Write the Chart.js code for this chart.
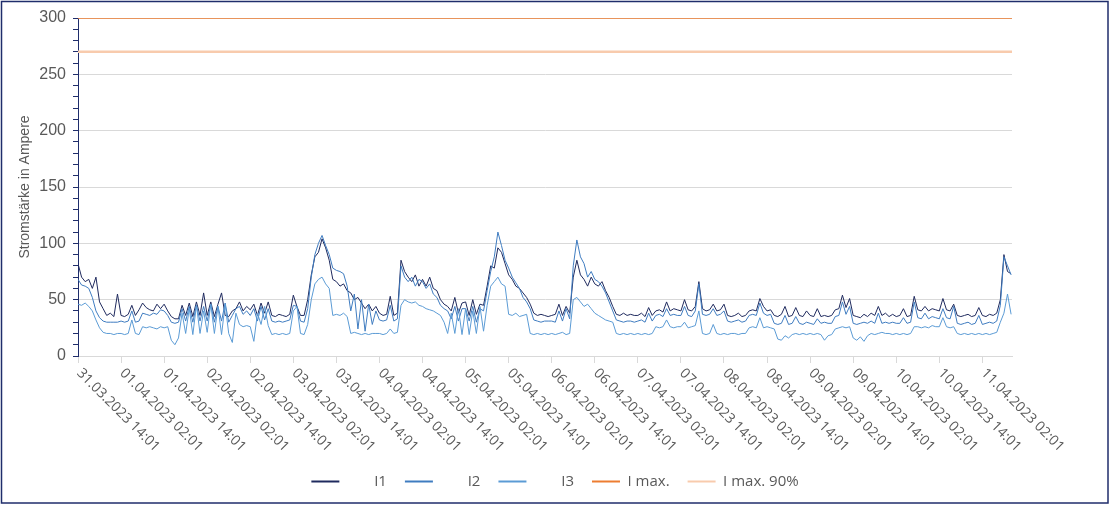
<!DOCTYPE html>
<html lang="de">
<head>
<meta charset="utf-8">
<title>Stromstärke in Ampere</title>
<script src="https://cdn.jsdelivr.net/npm/chart.js@4.4.0/dist/chart.umd.min.js"></script>
<style>
  html, body { margin: 0; padding: 0; background: #fff; }
</style>
</head>
<body>
<canvas id="grafik" width="1110" height="505"></canvas>
<script>
// Beschriftung der Zeitachse (alle 12 Stunden)
const tickLabels = [
  '31.03.2023 14:01', '01.04.2023 02:01', '01.04.2023 14:01', '02.04.2023 02:01',
  '02.04.2023 14:01', '03.04.2023 02:01', '03.04.2023 14:01', '04.04.2023 02:01',
  '04.04.2023 14:01', '05.04.2023 02:01', '05.04.2023 14:01', '06.04.2023 02:01',
  '06.04.2023 14:01', '07.04.2023 02:01', '07.04.2023 14:01', '08.04.2023 02:01',
  '08.04.2023 14:01', '09.04.2023 02:01', '09.04.2023 14:01', '10.04.2023 02:01',
  '10.04.2023 14:01', '11.04.2023 02:01'
];
const stundenProTick = 12;
const stundenGesamt = 260.25;

const serienNamen = ['I1', 'I2', 'I3', 'I max.', 'I max. 90%'];

// Stundenwerte ab 31.03.2023 14:01 (eine Zeile = 12 Stunden)
const i1 = [
  82, 70, 66, 68, 60, 70, 48, 42, 36, 38, 35, 55,
  36, 35, 37, 45, 36, 41, 47, 43, 41, 40, 46, 42,
  46, 40, 35, 33, 33, 45, 36, 47, 35, 48, 36, 56,
  36, 48, 35, 46, 56, 36, 35, 40, 42, 48, 40, 44,
  41, 46, 36, 47, 38, 48, 36, 35, 37, 36, 35, 37,
  54, 44, 36, 36, 50, 72, 88, 92, 104, 96, 85, 68,
  66, 62, 64, 58, 56, 50, 52, 47, 42, 46, 40, 44,
  38, 36, 37, 53, 36, 38, 85, 75, 70, 66, 72, 62,
  68, 62, 70, 60, 58, 50, 46, 44, 40, 52, 38, 47,
  48, 36, 50, 37, 46, 45, 62, 80, 78, 96, 92, 82,
  72, 68, 62, 60, 56, 52, 46, 38, 36, 37, 36, 35,
  36, 37, 46, 36, 44, 38, 70, 85, 72, 68, 62, 70,
  64, 62, 66, 58, 52, 44, 37, 36, 38, 36, 37, 36,
  36, 38, 35, 43, 36, 40, 41, 39, 48, 40, 42, 41,
  40, 50, 41, 40, 44, 66, 42, 40, 41, 46, 40, 41,
  46, 36, 35, 36, 38, 35, 36, 40, 41, 40, 51, 44,
  40, 41, 36, 35, 37, 44, 35, 36, 43, 36, 35, 40,
  36, 35, 42, 35, 36, 35, 36, 41, 42, 54, 43, 51,
  36, 35, 34, 37, 35, 38, 36, 44, 36, 38, 35, 37,
  35, 36, 42, 35, 36, 53, 41, 40, 44, 40, 42, 41,
  40, 51, 41, 40, 46, 36, 35, 36, 37, 35, 36, 43,
  36, 35, 37, 36, 38, 50, 90, 75, 73
];

const i2 = [
  68, 63, 62, 60, 52, 40, 34, 31, 30, 30, 30, 30,
  31, 30, 31, 40, 30, 31, 38, 37, 36, 38, 37, 41,
  40, 36, 30, 29, 30, 42, 31, 44, 30, 45, 31, 44,
  31, 46, 30, 44, 31, 47, 30, 36, 42, 44, 37, 40,
  36, 42, 31, 44, 32, 42, 31, 30, 31, 30, 31, 32,
  45, 44, 31, 30, 42, 70, 90, 100, 107, 98, 90, 78,
  76, 75, 73, 62, 40, 55, 24, 50, 22, 46, 28, 40,
  32, 31, 32, 45, 31, 33, 80, 70, 66, 70, 62, 68,
  66, 60, 64, 55, 52, 45, 42, 40, 33, 44, 31, 42,
  42, 31, 44, 30, 42, 40, 58, 75, 88, 110, 98, 85,
  78, 70, 65, 60, 52, 48, 42, 32, 31, 30, 31, 31,
  31, 30, 40, 31, 42, 33, 80, 103, 88, 82, 70, 75,
  68, 66, 62, 56, 48, 40, 32, 31, 30, 31, 31, 30,
  31, 32, 30, 38, 31, 36, 37, 35, 42, 36, 37, 36,
  36, 44, 36, 35, 40, 64, 37, 36, 37, 42, 36, 37,
  40, 31, 30, 31, 32, 30, 31, 36, 37, 36, 47, 38,
  36, 37, 29, 28, 29, 36, 28, 29, 35, 29, 28, 30,
  29, 28, 33, 29, 30, 29, 29, 35, 36, 48, 37, 44,
  29, 28, 29, 30, 29, 31, 29, 38, 29, 30, 29, 30,
  29, 29, 34, 29, 30, 48, 34, 33, 38, 33, 35, 34,
  33, 42, 34, 33, 44, 29, 28, 29, 30, 28, 29, 36,
  28, 29, 30, 29, 31, 45, 88, 80, 72
];

const i3 = [
  46, 45, 47, 44, 40, 32, 25, 21, 20, 20, 19, 20,
  20, 19, 20, 32, 20, 19, 26, 25, 26, 25, 24, 26,
  25, 26, 14, 10, 16, 38, 20, 42, 19, 45, 20, 40,
  21, 46, 20, 44, 19, 46, 20, 12, 38, 28, 26, 27,
  26, 13, 38, 28, 44, 27, 19, 20, 19, 20, 19, 20,
  40, 44, 20, 19, 28, 50, 64, 68, 70, 64, 60, 36,
  37, 36, 38, 35, 20, 21, 20, 19, 20, 19, 20, 20,
  20, 19, 20, 24, 20, 21, 45, 50, 48, 47, 48, 45,
  44, 42, 41, 40, 38, 36, 30, 20, 38, 20, 42, 19,
  42, 19, 40, 20, 44, 22, 45, 62, 66, 70, 64, 62,
  37, 36, 38, 35, 36, 37, 20, 19, 20, 19, 20, 19,
  20, 19, 20, 21, 19, 20, 50, 52, 48, 44, 46, 42,
  38, 36, 34, 32, 31, 30, 20, 19, 20, 19, 20, 19,
  20, 19, 20, 19, 20, 26, 25, 26, 32, 26, 25, 26,
  26, 30, 25, 26, 27, 40, 20, 19, 20, 28, 20, 19,
  20, 19, 20, 20, 19, 20, 20, 25, 26, 25, 34, 25,
  26, 25, 24, 15, 14, 18, 16, 19, 20, 19, 20, 19,
  20, 19, 20, 19, 14, 18, 19, 24, 25, 26, 25, 26,
  16, 14, 17, 13, 18, 20, 19, 20, 21, 20, 20, 19,
  20, 19, 20, 19, 20, 26, 26, 25, 26, 25, 27, 26,
  26, 34, 26, 25, 26, 20, 19, 20, 19, 20, 19, 20,
  19, 20, 19, 20, 21, 30, 38, 55, 37
];

const iMax = 300;
const iMax90 = 270;

const farben = ['#1F2A5E', '#3F7CC0', '#5B9BD5', '#ED7D31', '#F8CBAD'];
const grau = '#595959';
const rahmenFarbe = '#1F2D6B';

function alsPunkte(werte) {
  return werte.map((v, h) => ({ x: h, y: v }));
}

function waagerecht(wert) {
  return [{ x: 0, y: wert }, { x: stundenGesamt, y: wert }];
}

// Datumsbeschriftung schräg nach rechts unten + Rahmen
const zeitachsePlugin = {
  id: 'zeitachse',
  afterDraw(chart) {
    const ctx = chart.ctx;
    const xAchse = chart.scales.x;
    ctx.save();
    ctx.font = '14px "Open Sans"';
    ctx.fillStyle = grau;
    ctx.textAlign = 'left';
    ctx.textBaseline = 'middle';
    tickLabels.forEach((txt, i) => {
      const px = xAchse.getPixelForValue(i * stundenProTick);
      ctx.save();
      ctx.translate(px + 1, xAchse.top + 15);
      ctx.rotate(Math.PI / 4);
      ctx.fillText(txt, 0, 0);
      ctx.restore();
    });
    ctx.strokeStyle = rahmenFarbe;
    ctx.lineWidth = 1.5;
    ctx.strokeRect(1.5, 1.5, chart.width - 3.5, chart.height - 3.5);
    ctx.restore();
  }
};

const legendeTexte = ['       I1', '       I2', '       I3', 'I max.', 'I max. 90%'];

new Chart(document.getElementById('grafik').getContext('2d'), {
  type: 'line',
  data: {
    datasets: [
      { label: serienNamen[0], data: alsPunkte(i1), borderColor: farben[0], backgroundColor: farben[0], borderWidth: 1, order: 3 },
      { label: serienNamen[1], data: alsPunkte(i2), borderColor: farben[1], backgroundColor: farben[1], borderWidth: 1, order: 2 },
      { label: serienNamen[2], data: alsPunkte(i3), borderColor: farben[2], backgroundColor: farben[2], borderWidth: 1, order: 1 },
      { label: serienNamen[3], data: waagerecht(iMax), borderColor: farben[3], backgroundColor: farben[3], borderWidth: 1.5, order: 4 },
      { label: serienNamen[4], data: waagerecht(iMax90), borderColor: farben[4], backgroundColor: farben[4], borderWidth: 2.5, order: 5 }
    ]
  },
  options: {
    responsive: false,
    animation: false,
    events: [],
    elements: {
      point: { radius: 0 },
      line: { tension: 0 }
    },
    layout: {
      padding: { left: 0, right: 0, top: 18, bottom: 6 }
    },
    scales: {
      x: {
        type: 'linear',
        min: 0,
        max: stundenGesamt,
        border: { color: '#D9D9D9' },
        grid: { drawOnChartArea: false, drawTicks: true, tickLength: 7, tickColor: '#D9D9D9' },
        ticks: { display: false, stepSize: stundenProTick, includeBounds: false, maxTicksLimit: 100 },
        afterFit: scale => { scale.height = 100; }
      },
      y: {
        min: 0,
        max: 300,
        border: { color: rahmenFarbe, width: 1 },
        grid: {
          color: c => (c.tick && c.tick.value % 50 === 0) ? '#D9D9D9' : 'rgba(0,0,0,0)',
          tickColor: rahmenFarbe,
          tickLength: 5
        },
        ticks: {
          stepSize: 10,
          autoSkip: false,
          maxTicksLimit: 100,
          padding: 7,
          color: grau,
          font: { family: '"Liberation Sans", Arial, sans-serif', size: 16 },
          callback: v => (v % 50 === 0 ? v : '')
        },
        title: {
          display: true,
          text: 'Stromstärke in Ampere',
          color: grau,
          font: { family: '"Liberation Sans", Arial, sans-serif', size: 14 },
          padding: { top: 17, bottom: 0 }
        },
        afterFit: scale => { scale.width = 78; }
      },
      // leerer Rand rechts, damit die Legende über die ganze Breite zentriert bleibt
      rechts: {
        position: 'right',
        min: 0,
        max: 300,
        grid: { display: false },
        border: { display: false },
        ticks: { display: false },
        afterFit: scale => { scale.width = 98; }
      }
    },
    plugins: {
      tooltip: { enabled: false },
      legend: {
        position: 'bottom',
        labels: {
          boxWidth: 28,
          boxHeight: 2,
          padding: 18,
          color: grau,
          font: { family: '"Open Sans", sans-serif', size: 15 },
          generateLabels: chart => chart.data.datasets.map((ds, i) => ({
            text: legendeTexte[i],
            fillStyle: ds.borderColor,
            strokeStyle: ds.borderColor,
            lineWidth: 0,
            hidden: false,
            datasetIndex: i,
            fontColor: grau
          }))
        }
      }
    }
  },
  plugins: [zeitachsePlugin]
});
</script>
</body>
</html>
